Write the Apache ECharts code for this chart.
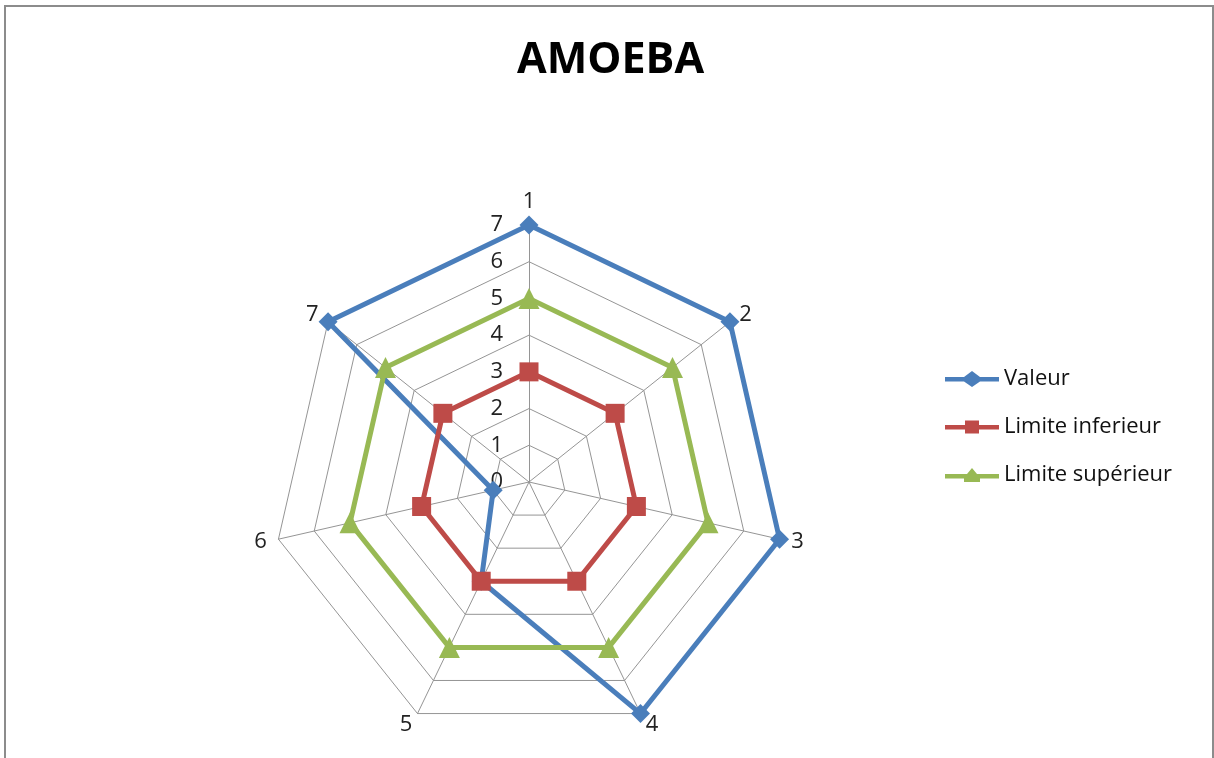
<!DOCTYPE html>
<html>
<head>
<meta charset="utf-8">
<script src="https://cdn.jsdelivr.net/npm/echarts@6/dist/echarts.min.js"></script>
<style>
  html, body { margin: 0; padding: 0; background: #ffffff; }
  #chart { width: 1214px; height: 758px; }
</style>
</head>
<body>
<div id="chart"></div>
<script>
// Axis names, in clockwise order starting from the top
const categories = ['1', '2', '3', '4', '5', '6', '7'];
// Series values, one per axis
const valeur = [7, 7, 7, 7, 3, 1, 7];
const limiteInferieur = [3, 3, 3, 3, 3, 3, 3];
const limiteSuperieur = [5, 5, 5, 5, 5, 5, 5];
const seriesNames = ['Valeur', 'Limite inferieur', 'Limite supérieur'];
const axisMin = 0;
const axisMax = 7;

const colors = ['#4A7EBB', '#BE4B48', '#98B954'];
const symbols = ['diamond', 'rect', 'triangle'];
const symbolSizes = [19, 19, 21];

// ECharts lays radar indicators out counter-clockwise; keep the first one on top
// and walk the rest backwards so the axes read clockwise.
const order = [0].concat(categories.slice(1).map((_, i) => categories.length - 1 - i));
const reorder = arr => order.map(i => arr[i]);

const indicator = reorder(categories).map((name, i) => {
  const item = { name: name, min: axisMin, max: axisMax };
  if (i === 0) item.axisLabel = { show: true };
  return item;
});

// Legend icons: a short line with the series marker in its middle (54 x 16 box)
const legendIcons = [
  'path://M0,6L19,6L27,0L35,6L54,6L54,10.5L35,10.5L27,16L19,10.5L0,10.5Z',
  'path://M0,6L20,6L20,1.5L34,1.5L34,6L54,6L54,10.5L34,10.5L34,14.5L20,14.5L20,10.5L0,10.5Z',
  'path://M0,6L22,6L27,0L32,6L54,6L54,10.5L35,10.5L35,14L19,14L19,10.5L0,10.5Z'
];

const values = [valeur, limiteInferieur, limiteSuperieur];

const option = {
  backgroundColor: '#ffffff',
  animation: false,
  title: {
    text: 'AMOEBA',
    left: 512,
    top: 34,
    textStyle: {
      fontFamily: 'Open Sans',
      fontWeight: 'bold',
      fontSize: 43,
      color: '#000000'
    }
  },
  graphic: [{
    type: 'rect',
    shape: { x: 5, y: 6, width: 1208, height: 800 },
    style: { fill: 'none', stroke: '#8c8c8c', lineWidth: 2 },
    silent: true
  }],
  legend: {
    orient: 'vertical',
    left: 940,
    top: 363,
    itemWidth: 54,
    itemHeight: 16,
    itemGap: 26,
    itemTextGap: 5,
    data: seriesNames.map((n, i) => ({ name: n, icon: legendIcons[i] })),
    itemStyle: { borderWidth: 0 },
    textStyle: { fontFamily: 'Open Sans', fontSize: 22, color: '#111111' }
  },
  radar: {
    center: [529, 482],
    radius: 257,
    startAngle: 90,
    shape: 'polygon',
    splitNumber: 7,
    indicator: indicator,
    axisName: {
      color: '#222222',
      fontFamily: 'Open Sans',
      fontSize: 22
    },
    nameGap: 12,
    axisLine: { lineStyle: { color: '#959595', width: 1 } },
    splitLine: { lineStyle: { color: '#959595', width: 1 } },
    splitArea: { show: false },
    axisTick: { show: false },
    axisLabel: {
      show: false,
      color: '#222222',
      fontFamily: 'Open Sans',
      fontSize: 22,
      margin: 26,
      showMinLabel: true,
      showMaxLabel: true
    }
  },
  series: [{
    type: 'radar',
    data: values.map((v, i) => ({
      name: seriesNames[i],
      value: reorder(v),
      symbol: symbols[i],
      symbolSize: symbolSizes[i],
      itemStyle: { color: colors[i] },
      lineStyle: { color: colors[i], width: 5 }
    }))
  }]
};

const chart = echarts.init(document.getElementById('chart'), null, { renderer: 'canvas' });
chart.setOption(option);
</script>
</body>
</html>
